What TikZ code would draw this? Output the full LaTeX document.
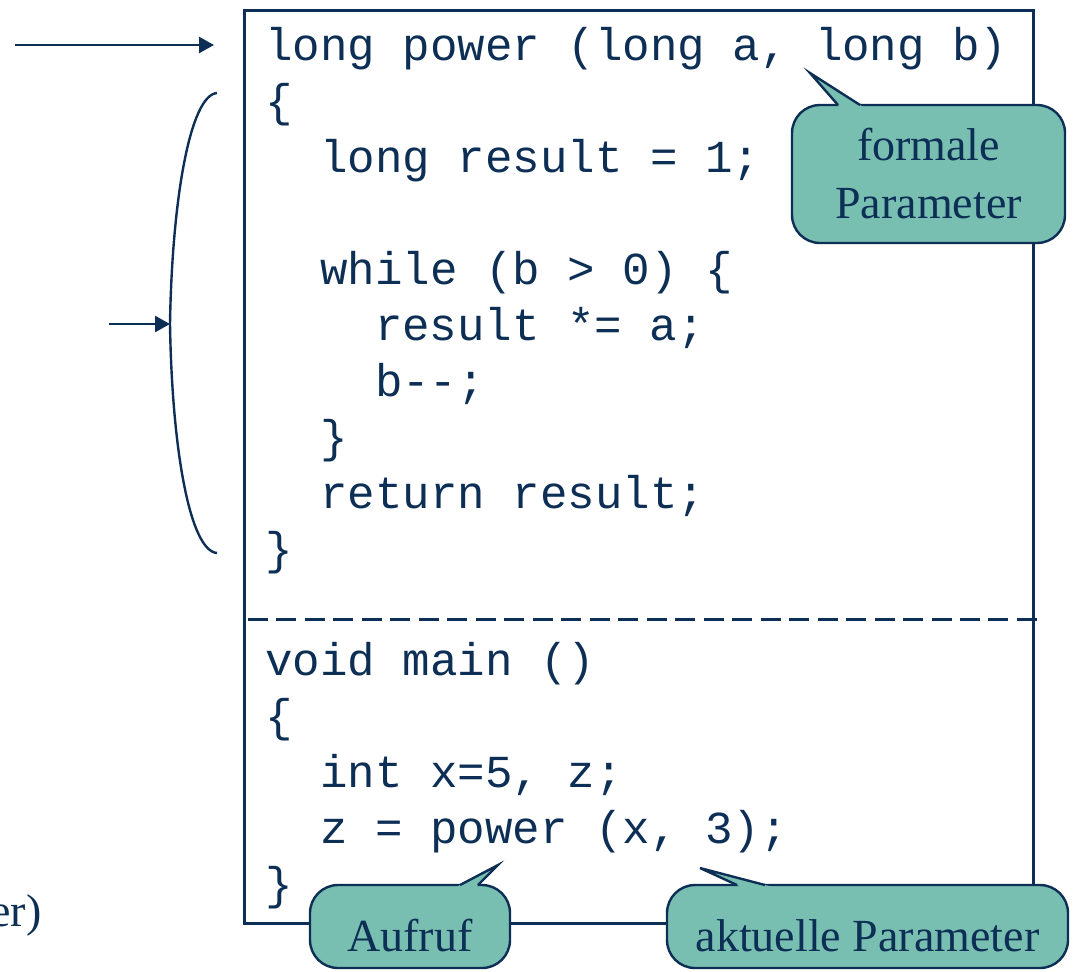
\documentclass[tikz,border=0pt]{standalone}
\usepackage{fontspec}
\setmainfont{Liberation Serif}
\setmonofont{Liberation Mono}
\usetikzlibrary{arrows.meta,positioning}
\definecolor{ink}{HTML}{0D2F55}
\definecolor{bubblefill}{HTML}{79BFB1}

\begin{document}
\begin{tikzpicture}[x=0.5pt,y=-0.5pt,>={Triangle[length=7.5pt,width=8pt]},
  code/.style={anchor=base west,inner sep=0pt,text=ink,font=\ttfamily\fontsize{22.9}{28}\selectfont},
  bubble/.style={draw=ink,line width=1.2pt,fill=bubblefill,rounded corners=14pt,text=ink,inner sep=0pt,font=\fontsize{23}{29}\selectfont},
  tipline/.style={draw=ink,line width=1.2pt,line join=miter},
  wire/.style={ink,line width=1.2pt}]
  \useasboundingbox (0,0) rectangle (1074,971);

  \node[draw=ink,line width=1.5pt,inner sep=0pt,anchor=north west,minimum width=394.5pt,minimum height=456.5pt] (frame) at (243,9) {};

  \node[code] (sig) at (265,60) {long power (long a, long b)};
  \node[code] (open1) at (265,116) {\{};
  \node[code] (decl) at (320,172) {long result = 1;};
  \node[code] (loop) at (320,284) {while (b > 0) \{};
  \node[code] (mult) at (374.6,340) {result *= a;};
  \node[code] (decr) at (374.6,396) {b--;};
  \node[code] (close2) at (320,452) {\}};
  \node[code] (ret) at (320,508) {return result;};
  \node[code] (close1) at (265,564) {\}};

  \coordinate (sepL) at (248,619);
  \coordinate (sepR) at (1037,619);
  \draw[ink,line width=1.5pt,dash pattern=on 10pt off 4.24pt] (sepL) -- (sepR);

  \node[code] (mainsig) at (265,675) {void main ()};
  \node[code] (open3) at (265,731) {\{};
  \node[code] (vars) at (320,787) {int x=5, z;};
  \node[code] (call) at (320,843) {z = power (x, 3);};
  \node[code] (close3) at (265,899) {\}};

  \node[anchor=base east,inner sep=0pt,text=ink,font=\fontsize{23}{29}\selectfont] (cut) at (42,926) {er)};

  % Pfeile links
  \coordinate (in1) at (15,45);
  \coordinate (hd) at (214,45);
  \draw[->,wire] (in1) -- (hd);
  \coordinate (brtop) at (217,93);
  \coordinate (brmid) at (170,324);
  \coordinate (brbot) at (217,553);
  \draw[wire] (brtop) .. controls (190,95) and (172,200) .. (brmid) .. controls (172,450) and (190,551) .. (brbot);
  \coordinate (in2) at (109,324);
  \draw[->,wire] (in2) -- (brmid);

  % Sprechblasen
  \node[bubble,align=center,minimum width=136.5pt,minimum height=69pt] (formal) at (928.5,174) {formale\\Parameter};
  \coordinate (ftip) at (810,73);
  \fill[bubblefill] (ftip) -- (844.1,112) -- (870.9,112) -- cycle;
  \draw[tipline] (838,105) -- (ftip) -- (860,105);

  \node[bubble,minimum width=100pt,minimum height=41.5pt,text height=24.5pt,text depth=0pt] (aufruf) at (410,926.5) {Aufruf};
  \coordinate (atip) at (498,865);
  \fill[bubblefill] (atip) -- (446.7,892) -- (471,892) -- cycle;
  \draw[tipline] (460,885) -- (atip) -- (478,885);

  \node[bubble,minimum width=200.5pt,minimum height=41.5pt,text height=24.5pt,text depth=0pt] (aktuell) at (867.5,926.5) {aktuelle Parameter};
  \coordinate (ktip) at (700,868);
  \fill[bubblefill] (ktip) -- (752.2,892) -- (791.8,892) -- cycle;
  \draw[tipline] (737,885) -- (ktip) -- (765,885);
\end{tikzpicture}
\end{document}
